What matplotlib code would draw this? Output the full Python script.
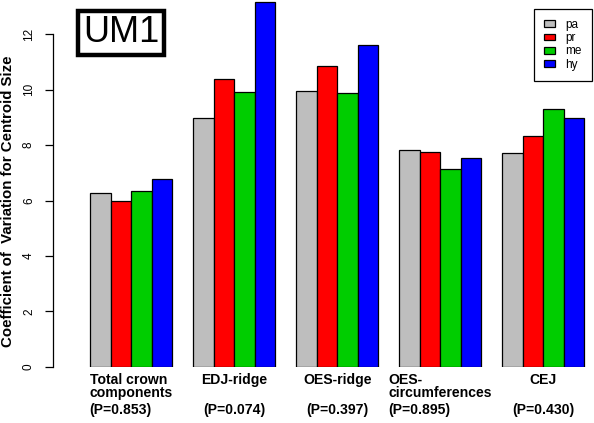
import numpy as np
import matplotlib.pyplot as plt
from matplotlib.patches import Rectangle

plt.rcParams['font.family'] = ['Liberation Sans', 'DejaVu Sans']

# data
groups = ['pa', 'pr', 'me', 'hy']
colors = ['#BEBEBE', '#FF0000', '#00CD00', '#0000FF']
components = ['Total crown\ncomponents', 'EDJ-ridge', 'OES-ridge',
              'OES-\ncircumferences', 'CEJ']
p_values = ['(P=0.853)', '(P=0.074)', '(P=0.397)', '(P=0.895)', '(P=0.430)']
pa = [6.28, 8.98, 9.96, 7.82, 7.73]
pr = [5.98, 10.38, 10.87, 7.74, 8.33]
me = [6.33, 9.93, 9.89, 7.14, 9.29]
hy = [6.77, 13.17, 11.63, 7.52, 8.99]
values = [pa, pr, me, hy]

W, H = 594, 423
fig = plt.figure(figsize=(W / 100, H / 100), dpi=100)
# axes placed in pixel terms: left spine at x=53, y=0 at 366.7px from top
y0 = 366.7
ax = fig.add_axes([53 / W, (H - y0) / H, 537 / W, 365.6 / H])

n = len(components)
x0 = 1 + 5 * np.arange(n)   # like R barplot beside=TRUE, space=c(0,1)
for i, (vals, c, lab) in enumerate(zip(values, colors, groups)):
    ax.bar(x0 + i, vals, width=1, align='edge', color=c,
           edgecolor='black', linewidth=0.9, label=lab)

ax.set_xlim(-0.8, 25.27)
ax.set_ylim(0, 13.2)
for s in ['top', 'right', 'bottom']:
    ax.spines[s].set_visible(False)
ax.spines['left'].set_bounds(0, 12)
ax.spines['left'].set_linewidth(0.9)
ax.set_xticks([])
ax.set_yticks([0, 2, 4, 6, 8, 10, 12])
ax.tick_params(axis='y', length=6, width=0.9, pad=7, labelsize=8.5)
for t in ax.get_yticklabels():
    t.set_rotation(90)
    t.set_va('center')

ax.set_ylabel('Coefficient of  Variation for Centroid Size',
              fontsize=10.8, fontweight='bold')
ax.yaxis.set_label_coords(-0.071, (y0 - 201) / 365.6)


def px_to_axes_y(py):
    return (y0 - py) / 365.6


# group labels under the bars, one text per line
trans = ax.get_xaxis_transform()
name_base = [383.5, 397]
p_base = 414
fs = 10.1
fig.canvas.draw()
renderer = fig.canvas.get_renderer()
inv = ax.transData.inverted()
for k in range(n):
    cx = x0[k] + 2
    lines = components[k].split('\n')
    if len(lines) > 1:
        tmp = [ax.text(cx, 0, ln, transform=trans, fontsize=fs,
                       fontweight='bold') for ln in lines]
        widths = [t.get_window_extent(renderer).width for t in tmp]
        for t in tmp:
            t.remove()
        xl_px = ax.transData.transform((cx, 0))[0] - max(widths) / 2
        xl = inv.transform((xl_px, 0))[0]
        for j, ln in enumerate(lines):
            ax.text(xl, px_to_axes_y(name_base[j]), ln, transform=trans,
                    ha='left', va='baseline', fontsize=fs, fontweight='bold')
        ax.text(xl, px_to_axes_y(p_base), p_values[k], transform=trans,
                ha='left', va='baseline', fontsize=fs, fontweight='bold')
    else:
        ax.text(cx, px_to_axes_y(name_base[0]), lines[0], transform=trans,
                ha='center', va='baseline', fontsize=fs, fontweight='bold')
        ax.text(cx, px_to_axes_y(p_base), p_values[k], transform=trans,
                ha='center', va='baseline', fontsize=fs, fontweight='bold')

leg = ax.legend(loc='upper right', bbox_to_anchor=(592 / W, 1 - 9 / H),
                bbox_transform=fig.transFigure, fontsize=8.5, fancybox=False,
                edgecolor='black', framealpha=1, handlelength=0.95,
                handleheight=0.5, handletextpad=0.9, labelspacing=0.1,
                borderpad=0.85, borderaxespad=0)
leg.get_frame().set_linewidth(0.9)

# UM1 tag
fig.patches.append(Rectangle((78 / W, 1 - 55 / H), 86 / W, 44 / H,
                             transform=fig.transFigure, fill=False,
                             edgecolor='black', linewidth=3.2))
fig.text(121 / W, 1 - 33 / H, 'UM1', ha='center', va='center', fontsize=26)

fig.savefig('out.png', dpi=100)
